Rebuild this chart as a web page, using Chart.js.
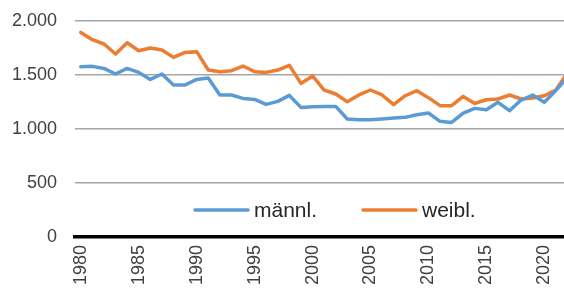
<!DOCTYPE html>
<html>
<head>
<meta charset="utf-8">
<script src="https://cdn.jsdelivr.net/npm/chart.js@4/dist/chart.umd.min.js"></script>
<style>
html,body{margin:0;padding:0;background:#fff;overflow:hidden;}
#wrap{width:564px;height:289px;position:relative;}
</style>
</head>
<body>
<div id="wrap"><canvas id="c" width="564" height="289"></canvas></div>
<script>
const years = [1980,1981,1982,1983,1984,1985,1986,1987,1988,1989,1990,1991,1992,1993,1994,1995,1996,1997,1998,1999,2000,2001,2002,2003,2004,2005,2006,2007,2008,2009,2010,2011,2012,2013,2014,2015,2016,2017,2018,2019,2020,2021,2022];
const maennl = [1577,1580,1561,1509,1561,1524,1459,1509,1407,1407,1459,1472,1315,1315,1283,1274,1228,1256,1311,1200,1206,1209,1209,1093,1086,1086,1093,1102,1108,1132,1148,1071,1061,1148,1191,1179,1247,1170,1268,1315,1247,1357,1478];
const weibl = [1894,1827,1787,1694,1799,1725,1750,1731,1663,1709,1716,1546,1531,1540,1583,1531,1524,1546,1589,1422,1491,1361,1324,1253,1315,1361,1315,1225,1308,1355,1290,1216,1216,1302,1237,1271,1278,1315,1278,1287,1308,1361,1520];
const xTickYears = [1980,1985,1990,1995,2000,2005,2010,2015,2020];
const yTicks = [0,500,1000,1500,2000];
const seriesLabels = ['männl.','weibl.'];
const colors = ['#5B9BD5','#ED7D31'];

const FONT = "'Liberation Sans', Arial, sans-serif";
Chart.defaults.font.family = FONT;
Chart.defaults.color = '#404040';

const inlineLegend = {
  id: 'inlineLegend',
  afterDatasetsDraw(chart) {
    const ctx = chart.ctx;
    const items = [{x0:195, x1:248, tx:254}, {x0:363, x1:416, tx:422}];
    const y = 210;
    ctx.save();
    chart.data.datasets.forEach((ds, i) => {
      const it = items[i];
      ctx.strokeStyle = ds.borderColor;
      ctx.lineWidth = 3.5;
      ctx.lineCap = 'round';
      ctx.beginPath(); ctx.moveTo(it.x0, y); ctx.lineTo(it.x1, y); ctx.stroke();
      ctx.fillStyle = '#262626';
      ctx.font = "21px " + FONT;
      ctx.textBaseline = 'alphabetic';
      ctx.textAlign = 'left';
      ctx.fillText(ds.label, it.tx, y + 7);
    });
    ctx.restore();
  }
};

new Chart(document.getElementById('c'), {
  type: 'line',
  data: {
    datasets: [
      { label: seriesLabels[0], data: years.map((y,i)=>({x:y, y:maennl[i]})), borderColor: colors[0], backgroundColor: colors[0], borderWidth: 3.5, pointRadius: 0, tension: 0, borderJoinStyle: 'round', borderCapStyle: 'round' },
      { label: seriesLabels[1], data: years.map((y,i)=>({x:y, y:weibl[i]})), borderColor: colors[1], backgroundColor: colors[1], borderWidth: 3.5, pointRadius: 0, tension: 0, borderJoinStyle: 'round', borderCapStyle: 'round' }
    ]
  },
  options: {
    responsive: false,
    animation: false,
    devicePixelRatio: 1,
    layout: { padding: { left: 12, top: 21, right: 0, bottom: 0 } },
    plugins: { legend: { display: false }, tooltip: { enabled: false } },
    scales: {
      x: {
        type: 'linear',
        min: 1979.5,
        max: 2021.7,
        afterFit(scale) { scale.height = 52; scale.paddingLeft = 0; scale.paddingRight = 0; },
        grid: { display: false, drawTicks: false },
        border: { display: true, color: '#000000', width: 3.5 },
        afterBuildTicks(scale) { scale.ticks = xTickYears.map(v => ({ value: v })); },
        ticks: {
          font: { size: 18 },
          color: '#404040',
          minRotation: 90,
          maxRotation: 90,
          padding: 8,
          autoSkip: false,
          callback: (v) => String(v)
        }
      },
      y: {
        min: 0,
        max: 2000,
        afterFit(scale) { scale.width = 63; scale.paddingTop = 0; scale.paddingBottom = 0; },
        afterBuildTicks(scale) { scale.ticks = yTicks.map(v => ({ value: v })); },
        grid: { color: '#A6A6A6', lineWidth: 1.6, drawTicks: false },
        border: { display: false },
        ticks: {
          font: { size: 18 },
          color: '#404040',
          padding: 18,
          callback: (v) => Number(v).toLocaleString('de-DE')
        }
      }
    }
  },
  plugins: [inlineLegend]
});
</script>
</body>
</html>
